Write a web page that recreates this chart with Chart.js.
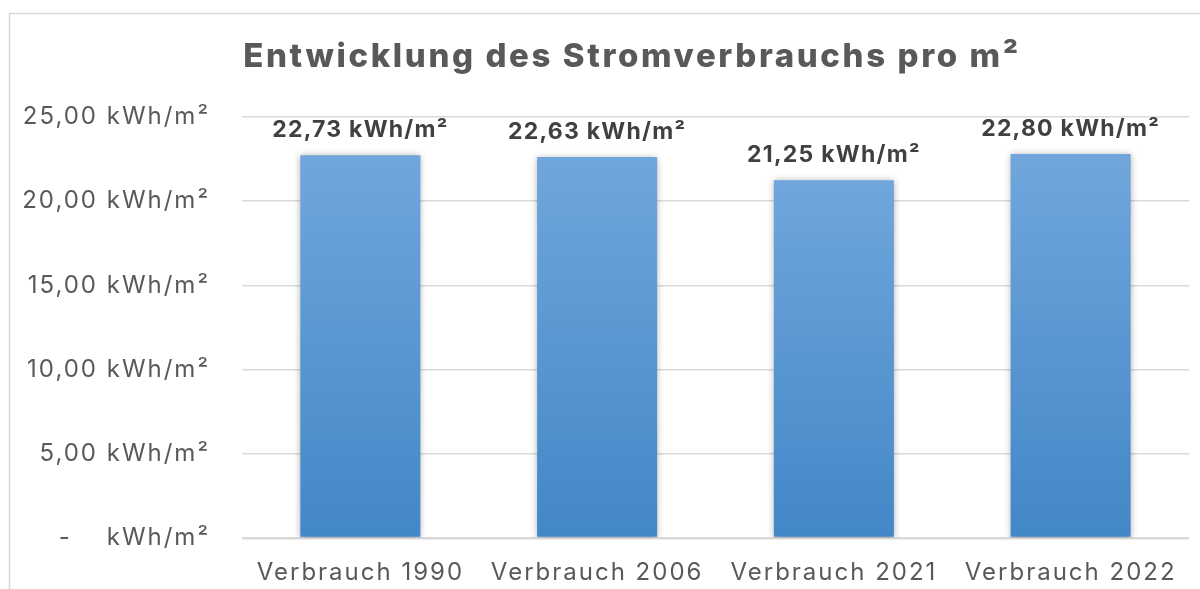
<!DOCTYPE html>
<html><head><meta charset="utf-8">
<script src="https://cdn.jsdelivr.net/npm/chart.js@4"></script>
<style>html,body{margin:0;padding:0;background:#fff;overflow:hidden}canvas{display:block}</style>
</head><body><canvas id="c" width="1200" height="589"></canvas>
<script>
const titleText = 'Entwicklung des Stromverbrauchs pro m²';
const categories = ['Verbrauch 1990', 'Verbrauch 2006', 'Verbrauch 2021', 'Verbrauch 2022'];
const values = [22.73, 22.63, 21.25, 22.80];
const valueLabels = ['22,73 kWh/m²', '22,63 kWh/m²', '21,25 kWh/m²', '22,80 kWh/m²'];
const yTickValues = [0, 5, 10, 15, 20, 25];
const yTickLabels = ['-    kWh/m²', '5,00 kWh/m²', '10,00 kWh/m²', '15,00 kWh/m²', '20,00 kWh/m²', '25,00 kWh/m²'];

const FONT = 'Inter, "Noto Sans", sans-serif';
const SPACING = '2px';

const spacingPlugin = {
  id: 'spacing',
  beforeUpdate(chart) { chart.ctx.letterSpacing = SPACING; },
  beforeLayout(chart) { chart.ctx.letterSpacing = SPACING; },
  beforeDraw(chart) {
    const ctx = chart.ctx;
    ctx.letterSpacing = SPACING;
    ctx.save();
    ctx.strokeStyle = '#d9d9d9';
    ctx.lineWidth = 1.5;
    ctx.strokeRect(9.5, 13.5, 1400, 900);
    ctx.restore();
  }
};

const titlePlugin = {
  id: 'customTitle',
  afterDraw(chart) {
    const ctx = chart.ctx;
    ctx.save();
    ctx.letterSpacing = '2.6px';
    ctx.font = '800 33px ' + FONT;
    ctx.fillStyle = '#595959';
    ctx.textAlign = 'center';
    ctx.textBaseline = 'alphabetic';
    ctx.fillText(titleText, 632, 67);
    ctx.restore();
  }
};

const shadowPlugin = {
  id: 'barShadow',
  beforeDatasetDraw(chart) {
    const ctx = chart.ctx;
    ctx.save();
    ctx.shadowColor = 'rgba(0,0,0,0.35)';
    ctx.shadowBlur = 7;
    ctx.shadowOffsetX = 0;
    ctx.shadowOffsetY = 1;
  },
  afterDatasetDraw(chart) { chart.ctx.restore(); }
};

const labelPlugin = {
  id: 'valueLabels',
  afterDatasetsDraw(chart) {
    const ctx = chart.ctx;
    const meta = chart.getDatasetMeta(0);
    ctx.save();
    ctx.letterSpacing = '1.25px';
    ctx.font = 'bold 23px ' + FONT;
    ctx.fillStyle = '#404040';
    ctx.textAlign = 'center';
    ctx.textBaseline = 'alphabetic';
    meta.data.forEach((bar, i) => {
      ctx.fillText(valueLabels[i], bar.x, bar.y - 18);
    });
    ctx.restore();
  }
};

new Chart(document.getElementById('c'), {
  type: 'bar',
  data: {
    labels: categories,
    datasets: [{
      data: values,
      backgroundColor: (c) => {
        const chart = c.chart;
        const area = chart.chartArea;
        if (!area || c.raw === undefined) return '#5b9bd5';
        const top = chart.scales.y.getPixelForValue(c.raw);
        const g = chart.ctx.createLinearGradient(0, top, 0, area.bottom);
        g.addColorStop(0, '#70a6dc');
        g.addColorStop(1, '#4287c7');
        return g;
      },
      borderWidth: 0,
      barPercentage: 0.507,
      categoryPercentage: 1
    }]
  },
  options: {
    responsive: false,
    animation: false,
    devicePixelRatio: 1,
    layout: { padding: { top: 117, right: 11, bottom: 0, left: 0 } },
    plugins: { legend: { display: false }, title: { display: false }, tooltip: { enabled: false } },
    scales: {
      x: {
        afterFit: (s) => { s.height = 51; },
        grid: { display: false },
        border: { display: false },
        ticks: { color: '#595959', font: { family: FONT, size: 24 }, padding: 12, maxRotation: 0 }
      },
      y: {
        min: 0, max: 25,
        afterFit: (s) => { s.width = 242; },
        afterBuildTicks: (s) => { s.ticks = yTickValues.map(v => ({ value: v })); },
        grid: {
          color: '#d9d9d9',
          lineWidth: (c) => (c.tick && c.tick.value === 0 ? 2.5 : 1.5),
          drawTicks: false
        },
        border: { display: false },
        ticks: {
          color: '#595959',
          font: { family: FONT, size: 24 },
          padding: 32,
          callback: (v) => yTickLabels[yTickValues.indexOf(v)]
        }
      }
    }
  },
  plugins: [spacingPlugin, shadowPlugin, labelPlugin, titlePlugin]
});
</script>
</body></html>
